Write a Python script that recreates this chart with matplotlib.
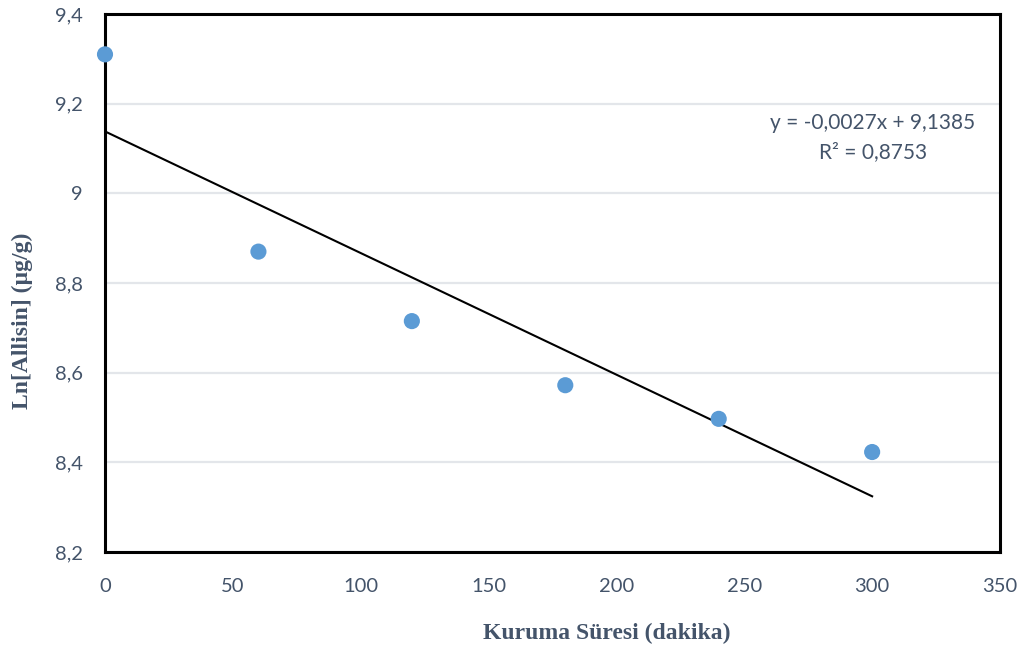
import numpy as np
import matplotlib
matplotlib.use("Agg")
import matplotlib.pyplot as plt
from matplotlib.ticker import FuncFormatter

# data
drying_time = [0, 60, 120, 180, 240, 300]
ln_allisin = [9.31, 8.87, 8.715, 8.572, 8.497, 8.423]
x_ticks = [0, 50, 100, 150, 200, 250, 300, 350]
y_ticks = [8.2, 8.4, 8.6, 8.8, 9.0, 9.2, 9.4]
eq_text = "y = -0,0027x + 9,1385"
r2_text = "R² = 0,8753"
x_label = "Kuruma Süresi (dakika)"
y_label = "Ln[Allisin] (µg/g)"

text_color = "#44546A"
fig = plt.figure(figsize=(10.32, 6.52), dpi=100)
ax = fig.add_axes([105/1032, 1-552/652, (1000-105)/1032, (552-14)/652])

ax.set_xlim(0, 350)
ax.set_ylim(8.2, 9.4)
ax.set_xticks(x_ticks)
ax.set_yticks(y_ticks)
ax.yaxis.grid(True, color="#E3E6EA", lw=1.6)
ax.set_axisbelow(True)

x = np.array(drying_time, dtype=float)
y = np.array(ln_allisin)
slope, intercept = np.polyfit(x, y, 1)
xs = np.array([x.min(), x.max()])
ax.plot(xs, slope*xs + intercept, color="black", lw=1.5, zorder=2)
ax.scatter(x, y, s=135, color="#5B9BD5", zorder=3, clip_on=False, edgecolors="none")

def fmt(v, pos):
    s = f"{v:g}"
    return s.replace(".", ",")
ax.xaxis.set_major_formatter(FuncFormatter(fmt))
ax.yaxis.set_major_formatter(FuncFormatter(fmt))

for sp in ax.spines.values():
    sp.set_linewidth(2.2)
    sp.set_color("black")
ax.tick_params(length=0, labelsize=14.5, colors=text_color)
ax.tick_params(axis="y", pad=16)
ax.tick_params(axis="x", pad=19)
for lab in ax.get_xticklabels() + ax.get_yticklabels():
    lab.set_fontfamily("Lato")

fig.text(873/1032, 1-123/652, eq_text, ha="center", va="center",
         fontsize=15, color=text_color, family="Lato")
fig.text(873/1032, 1-152/652, r2_text, ha="center", va="center",
         fontsize=15, color=text_color, family="Lato")

fig.text(607/1032, 1-633/652, x_label, ha="center", va="center", fontsize=17,
         fontweight="bold", family="Liberation Serif", color=text_color)
fig.text(22/1032, 1-321/652, y_label, ha="center", va="center", rotation=90, fontsize=17,
         fontweight="bold", family="Liberation Serif", color=text_color)

fig.savefig("out.png", dpi=100, facecolor="white")
